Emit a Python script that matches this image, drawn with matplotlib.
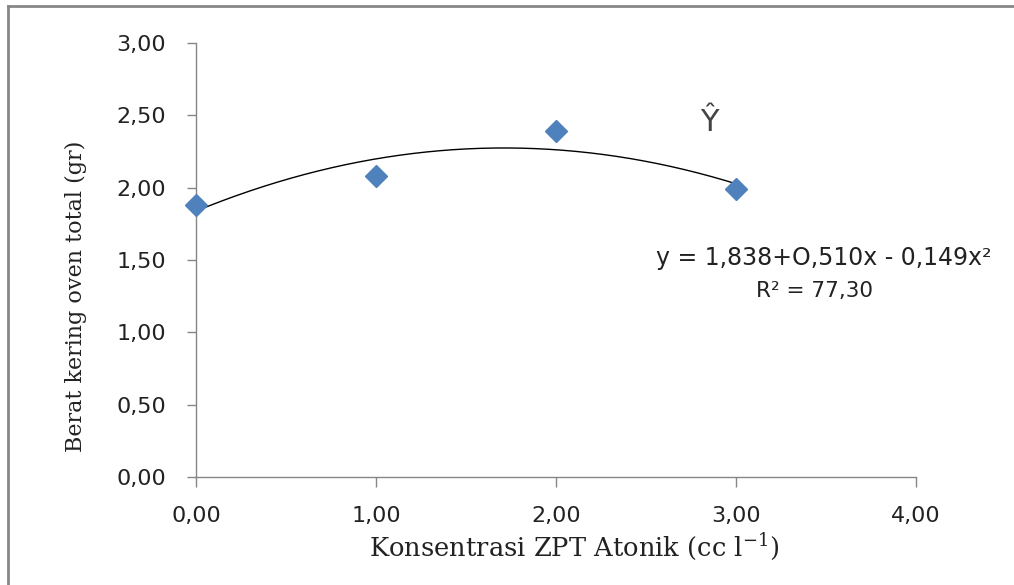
import matplotlib.pyplot as plt
import matplotlib.lines as mlines
import numpy as np

# Data
konsentrasi = [0.0, 1.0, 2.0, 3.0]
berat_kering = [1.88, 2.08, 2.39, 1.99]
# trendline coefficients (a2, a1, a0) from the equation on the chart
koef = [-0.149, 0.510, 1.838]

x_ticks = [0, 1, 2, 3, 4]
y_ticks = [0, 0.5, 1.0, 1.5, 2.0, 2.5, 3.0]

COLOR_AXIS = '#868686'
COLOR_MARK = '#4F81BD'

W, H = 1014, 585
fig = plt.figure(figsize=(W / 100, H / 100), dpi=100, facecolor='w')
ax = fig.add_axes([196 / W, 1 - 477 / H, (916 - 196) / W, (477 - 43) / H])

# trendline
xs = np.linspace(konsentrasi[0], konsentrasi[-1], 200)
ax.plot(xs, np.polyval(koef, xs), color='k', linewidth=1, zorder=2)
ax.plot(konsentrasi, berat_kering, linestyle='none', marker='D', markersize=11,
        color=COLOR_MARK, markeredgecolor=COLOR_MARK, zorder=3, clip_on=False)

ax.set_xlim(0, 4)
ax.set_ylim(0, 3)
ax.set_xticks(x_ticks)
ax.set_yticks(y_ticks)
ax.set_xticklabels([('%.2f' % v).replace('.', ',') for v in x_ticks])
ax.set_yticklabels([('%.2f' % v).replace('.', ',') for v in y_ticks])

for s in ['top', 'right']:
    ax.spines[s].set_visible(False)
for s in ['left', 'bottom']:
    ax.spines[s].set_color(COLOR_AXIS)
    ax.spines[s].set_linewidth(1)
ax.tick_params(axis='both', direction='out', width=1, color=COLOR_AXIS,
               labelsize=16, labelcolor='#222222')
ax.tick_params(axis='x', length=7, pad=14)
ax.tick_params(axis='y', length=6.5, pad=15)

# labels
fig.text(574 / W, 1 - 546 / H, 'Konsentrasi ZPT Atonik (cc l$^{\\mathregular{-1}}$)',
         family='DejaVu Serif', fontsize=18.5, ha='center', va='center', color='#222222')
fig.text(76 / W, 1 - 296 / H, 'Berat kering oven total (gr)', family='DejaVu Serif',
         fontsize=16, rotation=90, ha='center', va='center', color='#222222')

# annotations
ax.text(2.80, 2.35, '\u0176', fontsize=22, color='#444444',
        ha='left', va='bottom')
fig.text(824 / W, 1 - 258 / H, 'y = 1,838+O,510x - 0,149x\u00b2', fontsize=17,
         ha='center', va='center', color='#222222')
fig.text(815 / W, 1 - 291 / H, 'R\u00b2 = 77,30', fontsize=15.5,
         ha='center', va='center', color='#222222')

# outer frame (top and left edge only)
fig.add_artist(mlines.Line2D([8 / W, 1], [1 - 6 / H, 1 - 6 / H], color='#878787',
                             linewidth=2, transform=fig.transFigure))
fig.add_artist(mlines.Line2D([8 / W, 8 / W], [1 - 6 / H, 0], color='#878787',
                             linewidth=2, transform=fig.transFigure))

plt.savefig('out.png', dpi=100)
